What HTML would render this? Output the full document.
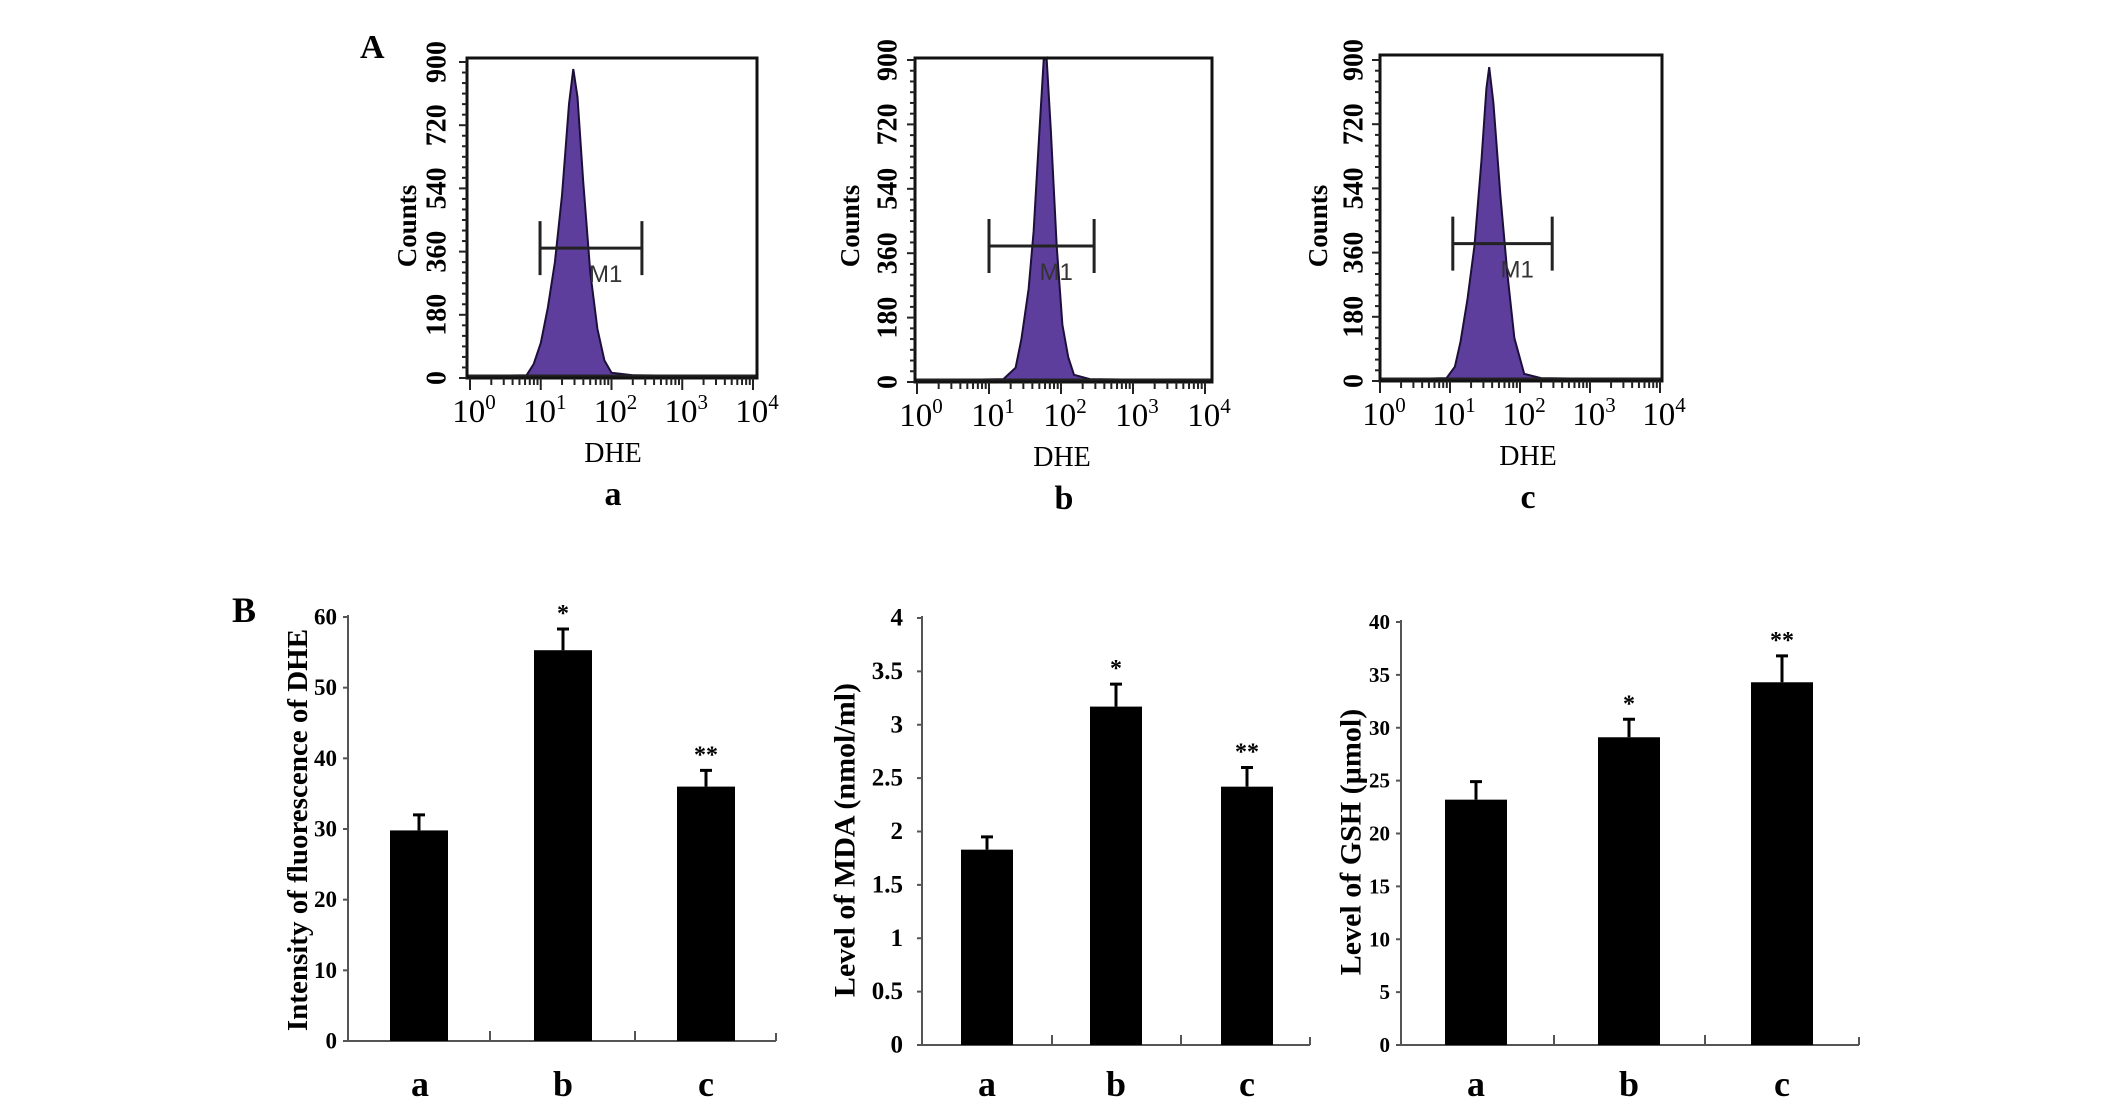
<!DOCTYPE html>
<html><head><meta charset="utf-8"><style>
html,body{margin:0;padding:0;background:#fff;}
svg{display:block;font-family:"Liberation Serif",serif;}
</style></head><body>
<svg id="fig" width="2126" height="1104" viewBox="0 0 2126 1104">
<text x="360" y="58" font-size="34" font-weight="bold">A</text>
<text x="232" y="622" font-size="36" font-weight="bold">B</text>
</svg>
<script>
// Histogram data (log10 DHE position, counts)
const histLogsA = [0,0.8,0.9,1.0,1.1,1.2,1.3,1.4,1.46,1.52,1.6,1.7,1.8,1.9,2.0,2.3,4];
const histCountsA = [5,8,40,100,200,330,520,780,880,800,560,300,140,50,15,8,4];
const histLogsB = [0,1.2,1.37,1.45,1.55,1.62,1.7,1.76,1.8,1.86,1.94,2.02,2.1,2.18,2.4,4];
const histCountsB = [4,8,40,120,260,420,700,900,920,700,380,160,70,20,8,4];
const histLogsC = [0,0.95,1.07,1.15,1.25,1.35,1.45,1.52,1.56,1.62,1.72,1.82,1.92,2.06,2.3,4];
const histCountsC = [4,8,40,110,230,380,620,820,880,780,520,300,120,20,8,4];
const gateLo = [0.99,1.0,1.04];
const gateHi = [2.43,2.46,2.46];
const gateCount = [370,380,385];
const yTicksHist = [0,180,360,540,720,900];
const xDecades = [0,1,2,3,4];
const histLabels = ['a','b','c'];

// Bar chart data
const categories = ['a','b','c'];
const dheValues = [29.8,55.3,36.0];
const dheErrors = [2.2,3.0,2.3];
const mdaValues = [1.83,3.17,2.42];
const mdaErrors = [0.12,0.21,0.18];
const gshValues = [23.2,29.1,34.3];
const gshErrors = [1.7,1.7,2.5];
const sigMarks = ['','*','**'];
const dheTicks = [0,10,20,30,40,50,60];
const mdaTicks = [0,0.5,1,1.5,2,2.5,3,3.5,4];
const gshTicks = [0,5,10,15,20,25,30,35,40];

const NS='http://www.w3.org/2000/svg';
const svg=document.getElementById('fig');
function el(tag,attrs,parent,txt){const e=document.createElementNS(NS,tag);for(const k in attrs)e.setAttribute(k,attrs[k]);if(txt!==undefined)e.textContent=txt;(parent||svg).appendChild(e);return e;}

const histPanels=[
 {logs:histLogsA,counts:histCountsA,bl:467,br:757,bt:58,x0:470,x4:753,y0:378,y900:62,tickX:437,countsX:407,dheX:613,labX:613},
 {logs:histLogsB,counts:histCountsB,bl:915,br:1212,bt:58,x0:917,x4:1205,y0:382,y900:60,tickX:888,countsX:850,dheX:1062,labX:1064},
 {logs:histLogsC,counts:histCountsC,bl:1380,br:1662,bt:55,x0:1380,x4:1660,y0:381,y900:60,tickX:1354,countsX:1318,dheX:1528,labX:1528}
];
histPanels.forEach((p,i)=>{
 const g=el('g',{});
 
 
 const xs=l=>p.x0+l*(p.x4-p.x0)/4;
 const ys=c=>p.y0-c/900*(p.y0-p.y900);
 let d='M'+xs(p.logs[0])+','+p.y0;
 p.logs.forEach((l,j)=>{d+=' L'+xs(l).toFixed(1)+','+Math.max(p.bt,ys(p.counts[j])).toFixed(1);});
 d+=' L'+xs(p.logs[p.logs.length-1])+','+p.y0+' Z';
 const h=el('path',{d:d,fill:'#5d3e9c',stroke:'#1c0f3a','stroke-width':2},g);
 
 
 el('line',{x1:p.bl,x2:p.br,y1:p.y0-2,y2:p.y0-2,stroke:'#222','stroke-width':3},g);
 const box=el('rect',{x:p.bl,y:p.bt,width:p.br-p.bl,height:p.y0-p.bt,fill:'none',stroke:'#111','stroke-width':3},g);
 
 
 for(let c=0;c<=900;c+=30){el('line',{x1:p.bl-(c%180===0?8:5),x2:p.bl,y1:ys(c),y2:ys(c),stroke:'#222','stroke-width':2},g);}
 yTicksHist.forEach(v=>{
  const t=el('text',{x:p.tickX,y:ys(v),'font-size':28,'font-weight':'bold','text-anchor':'middle','dominant-baseline':'central',transform:'rotate(-90 '+p.tickX+' '+ys(v)+')'},g,String(v));
  
  
 });
 const ct=el('text',{x:p.countsX,y:226,'font-size':27,'font-weight':'bold','text-anchor':'middle','dominant-baseline':'central',transform:'rotate(-90 '+p.countsX+' 226)'},g,'Counts');
 
 
 xDecades.forEach(dd=>{
  el('line',{x1:xs(dd),x2:xs(dd),y1:p.y0,y2:p.y0+12,stroke:'#222','stroke-width':2},g);
  if(dd<4){for(let m=2;m<=9;m++){const xx=xs(dd+Math.log10(m));el('line',{x1:xx,x2:xx,y1:p.y0,y2:p.y0+7,stroke:'#222','stroke-width':2},g);}}
  const t=el('text',{x:xs(dd)+4,y:p.y0+44,'font-size':33,'text-anchor':'middle'},g);
  
  
  el('tspan',{},t,'10');
  el('tspan',{dy:-13,'font-size':21},t,String(dd));
 });
 const dt=el('text',{x:p.dheX,y:p.y0+84,'font-size':28,'text-anchor':'middle'},g,'DHE');
 
 
 const lt=el('text',{x:p.labX,y:p.y0+127,'font-size':34,'font-weight':'bold','text-anchor':'middle'},g,histLabels[i]);
 
 
 const gy=ys(gateCount[i]), gx1=xs(gateLo[i]), gx2=xs(gateHi[i]);
 const gate=el('path',{d:`M${gx1},${gy} L${gx2},${gy} M${gx1},${gy-27} L${gx1},${gy+27} M${gx2},${gy-27} L${gx2},${gy+27}`,stroke:'#222','stroke-width':3,fill:'none'},g);
 
 
 const mt=el('text',{x:xs((gateLo[i]+gateHi[i])/2)-2,y:gy+34,'font-family':'Liberation Sans, sans-serif','font-size':24,fill:'#333'},g,'M1');
 
 
});

const barCharts=[
 {name:'dhe-chart',vals:dheValues,errs:dheErrors,ticks:dheTicks,max:60,ax:348,axEnd:776,y0:1041,yTop:617,bars:[390,534,677],bw:58,catTicks:[490,635],tickX:337,tickFs:23,tickW:'bold',title:'Intensity of fluorescence of DHE',titleX:298,titleY:830,titleFs:29,catX:[420,563,706]},
 {name:'mda-chart',vals:mdaValues,errs:mdaErrors,ticks:mdaTicks,max:4,ax:922,axEnd:1310,y0:1045,yTop:618,bars:[961,1090,1221],bw:52,catTicks:[1052,1181],tickX:903,tickFs:25,tickW:'bold',title:'Level of MDA (nmol/ml)',titleX:845,titleY:840,titleFs:30,catX:[987,1116,1247]},
 {name:'gsh-chart',vals:gshValues,errs:gshErrors,ticks:gshTicks,max:40,ax:1401,axEnd:1859,y0:1045,yTop:622,bars:[1445,1598,1751],bw:62,catTicks:[1554,1705],tickX:1390,tickFs:21,tickW:'bold',title:'Level of GSH (\u00b5mol)',titleX:1351,titleY:842,titleFs:30,catX:[1476,1629,1782]}
];
barCharts.forEach(c=>{
 const g=el('g',{});
 
 
 const ys=v=>c.y0-v/c.max*(c.y0-c.yTop);
 const ya=el('line',{x1:c.ax,x2:c.ax,y1:c.yTop-2,y2:c.y0,stroke:'#555','stroke-width':2},g);
 
 
 const xa=el('line',{x1:c.ax,x2:c.axEnd,y1:c.y0,y2:c.y0,stroke:'#555','stroke-width':2},g);
 
 
 c.catTicks.forEach(x=>el('line',{x1:x,x2:x,y1:c.y0-10,y2:c.y0,stroke:'#555','stroke-width':2},g));
 el('line',{x1:c.axEnd,x2:c.axEnd,y1:c.y0-8,y2:c.y0,stroke:'#555','stroke-width':2},g);
 c.ticks.forEach(v=>{
  el('line',{x1:c.ax-5,x2:c.ax,y1:ys(v),y2:ys(v),stroke:'#555','stroke-width':2},g);
  const t=el('text',{x:c.tickX,y:ys(v),'font-size':c.tickFs,'font-weight':c.tickW,'text-anchor':'end','dominant-baseline':'central'},g,String(v));
  
  
 });
 const tt=el('text',{x:c.titleX,y:c.titleY,'font-size':c.titleFs,'font-weight':'bold','text-anchor':'middle','dominant-baseline':'central',transform:`rotate(-90 ${c.titleX} ${c.titleY})`},g,c.title);
 
 
 c.vals.forEach((v,i)=>{
  const x=c.bars[i], cx=x+c.bw/2;
  const eb=el('path',{d:`M${cx},${ys(v)} L${cx},${ys(v+c.errs[i])} M${cx-6},${ys(v+c.errs[i])} L${cx+6},${ys(v+c.errs[i])}`,stroke:'#000','stroke-width':3,fill:'none'},g);
  
  
  const r=el('rect',{x:x,y:ys(v),width:c.bw,height:c.y0-ys(v),fill:'#000'},g);
  
  
  if(sigMarks[i]){
   const s=el('text',{x:cx,y:ys(v+c.errs[i])-8,'font-size':24,'font-weight':'bold','text-anchor':'middle'},g,sigMarks[i]);
   
   
  }
  const cl=el('text',{x:c.catX[i],y:1096,'font-size':36,'font-weight':'bold','text-anchor':'middle'},g,categories[i]);
  
  
 });
});
</script>
</body></html>
